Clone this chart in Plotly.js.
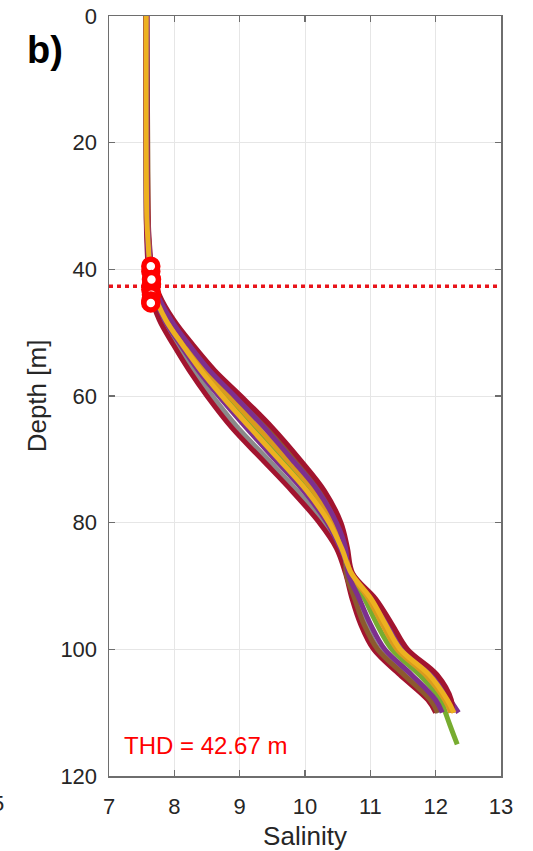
<!DOCTYPE html>
<html>
<head>
<meta charset="utf-8">
<script src="https://cdn.plot.ly/plotly-3.0.1.min.js"></script>
<style>html,body{margin:0;padding:0;background:#fff;}#chart{width:533px;height:851px;}</style>
</head>
<body>
<div id="chart"></div>
<script>
// Depth levels (m) shared by the profiles
const depth = [0, 32, 36, 40, 44, 48, 52, 56, 60, 65, 70, 75, 80, 84, 88, 92, 96, 100, 104, 108, 110];
const depthGreen = [0, 32, 36, 40, 44, 48, 52, 56, 60, 65, 70, 75, 80, 84, 88, 92, 96, 100, 104, 108, 110, 112, 115];

// Salinity profiles
const salGray    = [7.56,7.57,7.59,7.61,7.66,7.80,8.04,8.29,8.58,8.97,9.43,9.88,10.27,10.51,10.64,10.78,10.93,11.13,11.54,11.94,12.05];
const salRed1    = [7.56,7.57,7.58,7.60,7.64,7.77,7.99,8.23,8.50,8.88,9.34,9.80,10.22,10.48,10.62,10.72,10.85,11.05,11.45,11.88,12.00];
const salBrown   = [7.58,7.60,7.61,7.65,7.76,7.97,8.26,8.58,8.97,9.44,9.86,10.25,10.52,10.63,10.63,10.76,10.90,11.11,11.51,11.92,12.03];
const salPurple1 = [7.57,7.58,7.59,7.62,7.69,7.85,8.10,8.37,8.68,9.10,9.54,9.98,10.34,10.54,10.72,11.04,11.28,11.52,11.96,12.22,12.35];
const salRed2    = [7.58,7.60,7.62,7.66,7.77,7.99,8.29,8.62,9.02,9.50,9.92,10.30,10.55,10.65,10.73,11.08,11.33,11.57,12.02,12.24,12.25];
const salOrange  = [7.57,7.59,7.61,7.64,7.72,7.91,8.19,8.48,8.84,9.28,9.72,10.13,10.44,10.59,10.70,10.97,11.18,11.41,11.84,12.14,12.23];
const salPurple2 = [7.58,7.59,7.61,7.65,7.74,7.95,8.23,8.54,8.92,9.38,9.80,10.20,10.48,10.62,10.66,10.83,11.00,11.22,11.63,12.00,12.10];
const salGreen   = [7.57,7.59,7.60,7.63,7.71,7.89,8.16,8.44,8.79,9.22,9.66,10.08,10.40,10.57,10.68,10.91,11.10,11.33,11.75,12.08,12.15,12.22,12.33];
const salYellow  = [7.57,7.58,7.60,7.63,7.70,7.87,8.13,8.41,8.73,9.16,9.60,10.03,10.37,10.56,10.71,11.01,11.23,11.46,11.90,12.18,12.28];

// Red markers near the transition
const dotSal   = [7.64, 7.65, 7.64, 7.65, 7.64, 7.65, 7.64, 7.64];
const dotDepth = [40.3, 42.3, 43.2, 44.0, 39.5, 41.6, 45.0, 45.3];

// Threshold depth
const thd = 42.67;
const xRange = [7, 13];
const yRange = [120, 0];
const xTicks = [7, 8, 9, 10, 11, 12, 13];
const yTicks = [0, 20, 40, 60, 80, 100, 120];

const profiles = [
  {x: salGray,    y: depth,      c: '#8a8a8a'},
  {x: salRed1,    y: depth,      c: '#A2142F'},
  {x: salBrown,   y: depth,      c: '#8C5A2E'},
  {x: salGreen,   y: depthGreen, c: '#77AC30'},
  {x: salPurple1, y: depth,      c: '#7E2F8E'},
  {x: salRed2,    y: depth,      c: '#A2142F'},
  {x: salOrange,  y: depth,      c: '#D99A1E'},
  {x: salPurple2, y: depth,      c: '#7E2F8E'},
  {x: salYellow,  y: depth,      c: '#EDB120'}
];

const traces = profiles.map(p => ({
  type: 'scatter', mode: 'lines', x: p.x, y: p.y,
  line: {color: p.c, width: 5, shape: 'spline', smoothing: 1},
  hoverinfo: 'skip', showlegend: false, cliponaxis: false
}));

traces.push({
  type: 'scatter', mode: 'lines', x: xRange, y: [thd, thd],
  line: {color: '#E8141B', width: 3.5, dash: '4px,4px'},
  showlegend: false, hoverinfo: 'skip'
});

traces.push({
  type: 'scatter', mode: 'markers', x: dotSal, y: dotDepth,
  marker: {symbol: 'circle', size: 14, color: '#ffffff', line: {color: '#FF0000', width: 5.5}},
  showlegend: false, hoverinfo: 'skip', cliponaxis: false
});

const tickFont = {family: 'Liberation Sans, Arial, sans-serif', size: 22, color: '#262626'};
const titleFont = {family: 'Liberation Sans, Arial, sans-serif', size: 26, color: '#262626'};

const layout = {
  width: 533, height: 851,
  margin: {l: 109, r: 32, t: 16, b: 75, pad: 0},
  paper_bgcolor: '#ffffff', plot_bgcolor: '#ffffff',
  xaxis: {
    range: xRange, tickvals: xTicks, ticktext: xTicks.map(String),
    ticks: 'inside', ticklen: 6, tickwidth: 1.2, tickcolor: '#6e6e6e',
    showline: true, linecolor: '#6e6e6e', linewidth: 1.5, mirror: 'ticks',
    showgrid: true, gridcolor: '#e6e6e6', gridwidth: 1, zeroline: false,
    tickfont: tickFont, ticklabelstandoff: 10,
    title: {text: 'Salinity', font: titleFont, standoff: 10}
  },
  yaxis: {
    range: yRange, tickvals: yTicks, ticktext: yTicks.map(String),
    ticks: 'inside', ticklen: 6, tickwidth: 1.2, tickcolor: '#6e6e6e',
    showline: true, linecolor: '#6e6e6e', linewidth: 1.5, mirror: 'ticks',
    showgrid: true, gridcolor: '#e6e6e6', gridwidth: 1, zeroline: false,
    tickfont: tickFont, ticklabelstandoff: 6,
    title: {text: 'Depth [m]', font: titleFont, standoff: 6}
  },
  annotations: [
    {xref: 'x', yref: 'y', x: 7.2, y: 115.2, xanchor: 'left', yanchor: 'middle',
     text: 'THD = 42.67 m', showarrow: false,
     font: {family: 'Liberation Sans, Arial, sans-serif', size: 24, color: '#FF0000'}},
    {xref: 'paper', yref: 'paper', x: -0.163, y: 0.955, xanchor: 'center', yanchor: 'middle',
     text: '<b>b)</b>', showarrow: false,
     font: {family: 'Liberation Sans, Arial, sans-serif', size: 38, color: '#000000'}},
    {xref: 'paper', yref: 'paper', x: -0.283, y: -0.036, xanchor: 'center', yanchor: 'middle',
     text: '5', showarrow: false,
     font: tickFont}
  ],
  showlegend: false
};

Plotly.newPlot('chart', traces, layout, {staticPlot: true, displayModeBar: false});
</script>
</body>
</html>
